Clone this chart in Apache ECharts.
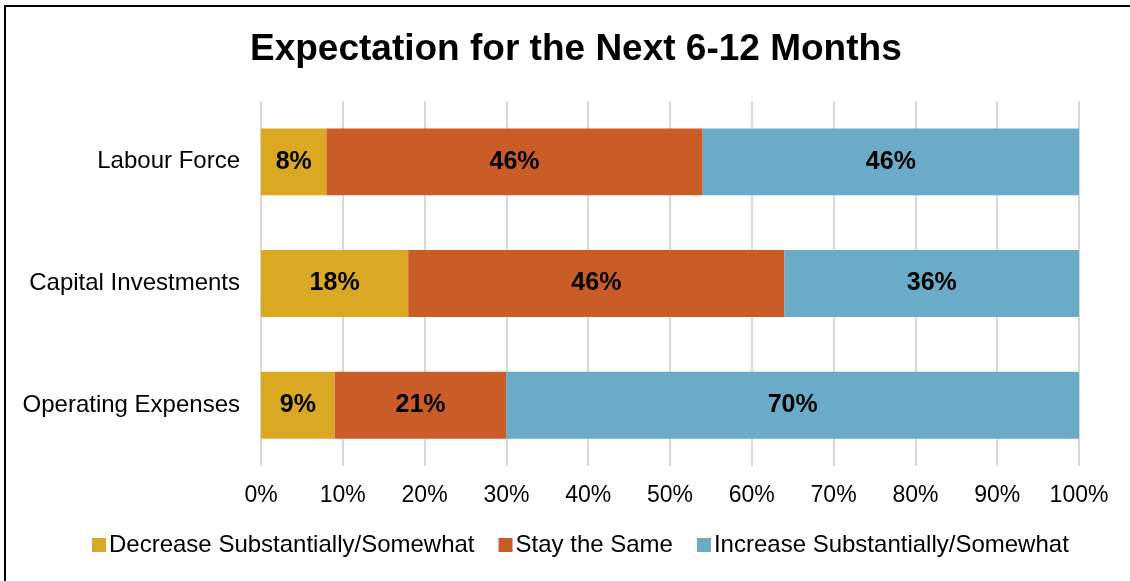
<!DOCTYPE html>
<html>
<head>
<meta charset="utf-8">
<script src="https://cdn.jsdelivr.net/npm/echarts@6/dist/echarts.min.js"></script>
<style>
  html, body { margin: 0; padding: 0; background: #fff; }
  #frame { position: absolute; left: 4px; top: 5px; width: 1126px; height: 576px;
           border-left: 2px solid #000; border-top: 2px solid #000; }
  #myChart { position: absolute; left: 0; top: 0; width: 1130px; height: 581px; }
</style>
</head>
<body>
<div id="myChart"></div>
<div id="frame"></div>
<script>
  // categories, bottom to top as echarts draws them
  let categories = ['Operating Expenses', 'Capital Investments', 'Labour Force'];
  let decrease = [9, 18, 8];
  let same = [21, 46, 46];
  let increase = [70, 36, 46];
  let seriesNames = ['Decrease Substantially/Somewhat', 'Stay the Same', 'Increase Substantially/Somewhat'];
  let colors = ['#DAA822', '#CA5C27', '#6AACC8'];

  let myChart = echarts.init(document.getElementById('myChart'));
  let font = 'Liberation Sans, Arial, sans-serif';

  function bar(name, data, color) {
    return {
      name: name,
      type: 'bar',
      stack: 'all',
      data: data,
      barCategoryGap: '45%',
      itemStyle: { color: color },
      label: {
        show: true,
        position: 'inside',
        formatter: '{c}%',
        color: '#000',
        fontWeight: 'bold',
        fontSize: 25,
        fontFamily: font
      }
    };
  }

  myChart.setOption({
    animation: false,
    textStyle: { fontFamily: font },
    title: {
      text: 'Expectation for the Next 6-12 Months',
      left: 245,
      top: 26,
      textStyle: { fontSize: 37, fontWeight: 'bold', color: '#000', fontFamily: font }
    },
    legend: {
      data: seriesNames,
      bottom: 19,
      left: 87,
      itemWidth: 14,
      itemHeight: 14,
      itemGap: 24,
      icon: 'rect',
      textStyle: { fontSize: 24, color: '#000', fontFamily: font, padding: [0, 0, 0, -2] }
    },
    grid: { left: 261, right: 51, top: 101, bottom: 115, containLabel: false },
    xAxis: {
      type: 'value',
      min: 0,
      max: 100,
      interval: 10,
      axisLabel: { formatter: '{value}%', fontSize: 23, color: '#000', margin: 18, fontFamily: font },
      axisLine: { show: false },
      axisTick: { show: false },
      splitLine: { show: true, lineStyle: { color: '#D9D9D9', width: 2 } }
    },
    yAxis: {
      type: 'category',
      data: categories,
      axisLabel: { fontSize: 24, color: '#000', margin: 21, fontFamily: font, padding: [4, 0, 0, 0] },
      axisLine: { show: false },
      axisTick: { show: false }
    },
    series: [
      bar(seriesNames[0], decrease, colors[0]),
      bar(seriesNames[1], same, colors[1]),
      bar(seriesNames[2], increase, colors[2])
    ]
  });
</script>
</body>
</html>
